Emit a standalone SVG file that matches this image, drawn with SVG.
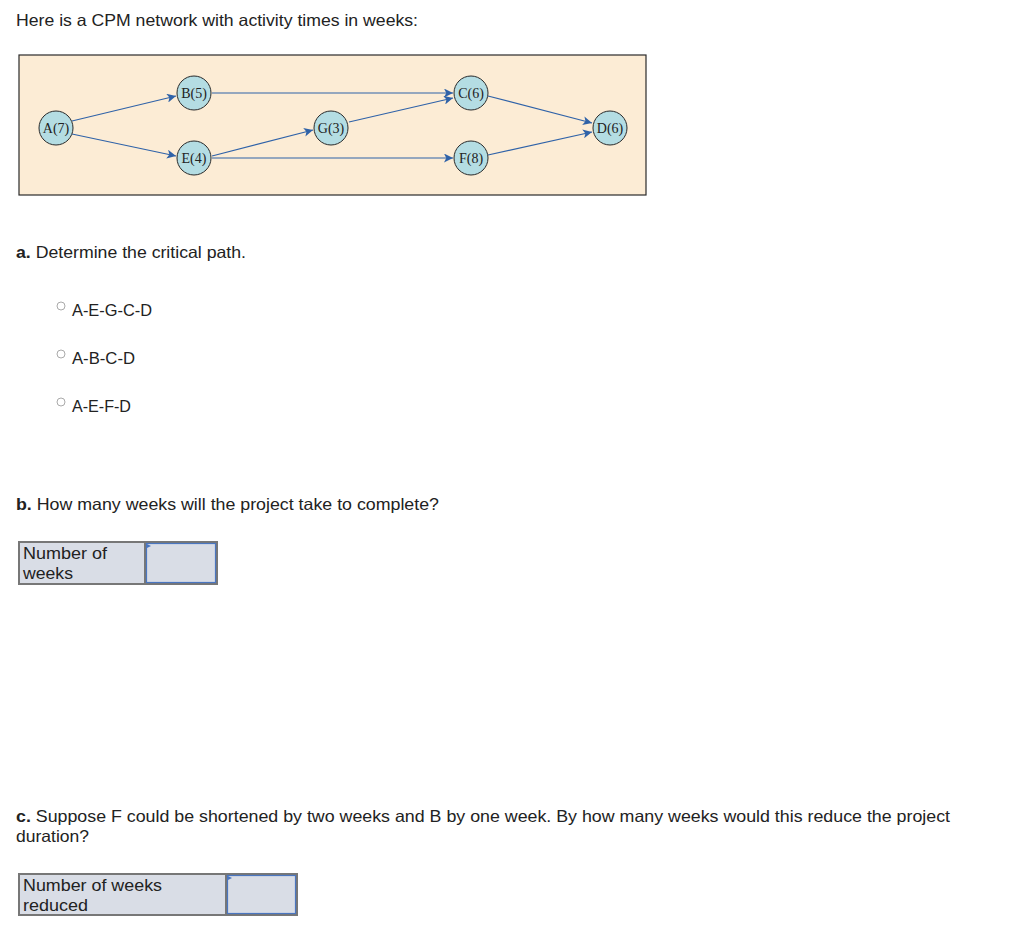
<svg xmlns="http://www.w3.org/2000/svg" width="1036" height="946" viewBox="0 0 1036 946">
<defs>
<marker id="ah" viewBox="0 0 10 10" refX="10" refY="5" markerWidth="13" markerHeight="9" markerUnits="userSpaceOnUse" orient="auto">
<path d="M0,0 L10,5 L0,10 L2.5,5 Z" fill="#2f62a8"/>
</marker>
</defs>
<style>
.t{font-family:"Liberation Sans","Open Sans",Arial,sans-serif;font-size:16.5px;fill:#222}
.b{font-weight:bold}
.n circle{fill:#b4dde3;stroke:#2a2a2a;stroke-width:1}
.n text{font-family:"Liberation Serif","Times New Roman",serif;font-size:14px;fill:#222;text-anchor:middle}
.e{stroke:#2f62a8;stroke-width:1.2;fill:none;marker-end:url(#ah)}
.cell{fill:#d9dde6;stroke:#777;stroke-width:2}
.inp{fill:#d9dde6;stroke:#4a76c0;stroke-width:1.2}
.radio{fill:#fff;stroke:#aaa;stroke-width:1}
</style>
<rect width="1036" height="946" fill="#fff"/>
<text class="t" x="16" y="26" textLength="402" lengthAdjust="spacingAndGlyphs">Here is a CPM network with activity times in weeks:</text>
<rect x="19" y="55" width="627" height="140" fill="#fcecd5" stroke="#2a2a2a" stroke-width="1.2"/>
<g id="connectors">
<line class="e" x1="72" y1="121" x2="176" y2="96"/>
<line class="e" x1="72" y1="134" x2="176" y2="156"/>
<line class="e" x1="212" y1="93" x2="453" y2="93"/>
<line class="e" x1="212" y1="156" x2="313" y2="130"/>
<line class="e" x1="212" y1="158" x2="453" y2="158"/>
<line class="e" x1="349" y1="122" x2="453" y2="98"/>
<line class="e" x1="488" y1="96" x2="592" y2="123"/>
<line class="e" x1="488" y1="155" x2="592" y2="132"/>
</g>
<g id="A" class="n"><circle cx="56" cy="128" r="17"/><text x="56" y="133">A(7)</text></g>
<g id="B" class="n"><circle cx="194" cy="93" r="17"/><text x="194" y="98">B(5)</text></g>
<g id="E" class="n"><circle cx="194" cy="158" r="17"/><text x="194" y="163">E(4)</text></g>
<g id="G" class="n"><circle cx="331" cy="128" r="17"/><text x="331" y="133">G(3)</text></g>
<g id="C" class="n"><circle cx="471" cy="93" r="17"/><text x="471" y="98">C(6)</text></g>
<g id="F" class="n"><circle cx="471" cy="158" r="17"/><text x="471" y="163">F(8)</text></g>
<g id="D" class="n"><circle cx="610" cy="128" r="17"/><text x="610" y="133">D(6)</text></g>
<text class="t" x="16" y="258" textLength="230" lengthAdjust="spacingAndGlyphs"><tspan class="b">a.</tspan> Determine the critical path.</text>
<circle class="radio" cx="61" cy="306" r="4"/>
<text class="t" x="72" y="316" textLength="80" lengthAdjust="spacingAndGlyphs">A-E-G-C-D</text>
<circle class="radio" cx="61" cy="354" r="4"/>
<text class="t" x="72" y="364" textLength="63" lengthAdjust="spacingAndGlyphs">A-B-C-D</text>
<circle class="radio" cx="61" cy="402" r="4"/>
<text class="t" x="72" y="412" textLength="59" lengthAdjust="spacingAndGlyphs">A-E-F-D</text>
<text class="t" x="16" y="510" textLength="423" lengthAdjust="spacingAndGlyphs"><tspan class="b">b.</tspan> How many weeks will the project take to complete?</text>
<rect class="cell" x="19" y="542" width="198" height="42"/>
<line x1="145" y1="542" x2="145" y2="584" stroke="#777" stroke-width="2"/>
<rect class="inp" x="146.5" y="543.5" width="69" height="39"/>
<path d="M147,544 L151,546 L147,548 Z" fill="#4a76c0"/>
<text class="t" x="23" y="559" textLength="84" lengthAdjust="spacingAndGlyphs">Number of</text>
<text class="t" x="23" y="579" textLength="50" lengthAdjust="spacingAndGlyphs">weeks</text>
<text class="t" x="16" y="822" textLength="934" lengthAdjust="spacingAndGlyphs"><tspan class="b">c.</tspan> Suppose F could be shortened by two weeks and B by one week. By how many weeks would this reduce the project</text>
<text class="t" x="16" y="842" textLength="73" lengthAdjust="spacingAndGlyphs">duration?</text>
<rect class="cell" x="19" y="874" width="278" height="41"/>
<line x1="226" y1="874" x2="226" y2="915" stroke="#777" stroke-width="2"/>
<rect class="inp" x="227.5" y="875.5" width="68" height="38"/>
<path d="M228,876 L232,878 L228,880 Z" fill="#4a76c0"/>
<text class="t" x="23" y="891" textLength="139" lengthAdjust="spacingAndGlyphs">Number of weeks</text>
<text class="t" x="23" y="911" textLength="65" lengthAdjust="spacingAndGlyphs">reduced</text>
</svg>
